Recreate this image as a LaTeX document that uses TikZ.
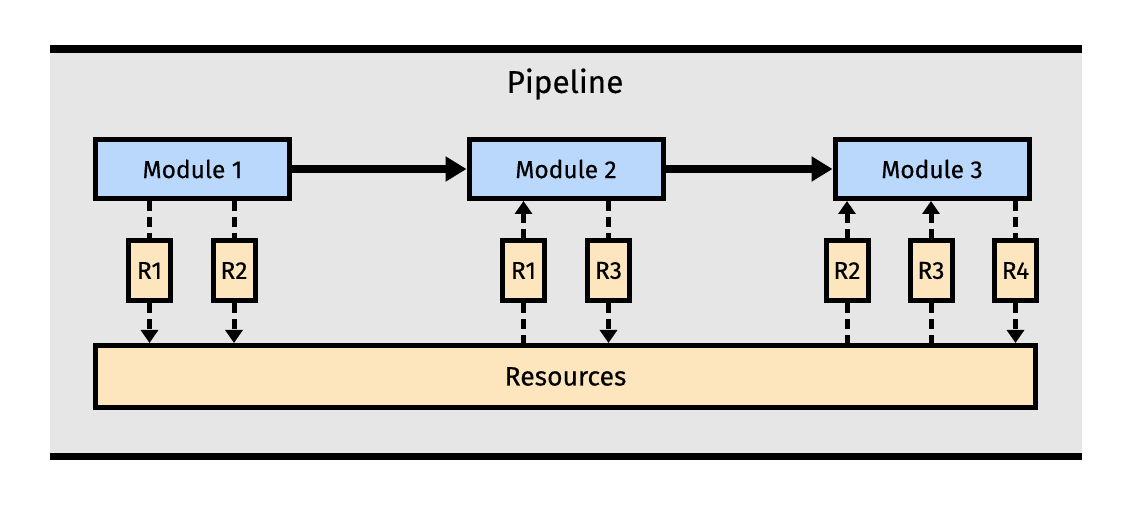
\documentclass[tikz,border=0pt]{standalone}
\usepackage{fontspec}
\setmainfont{Fira Sans}[FakeBold=0.4]
\usetikzlibrary{arrows.meta}
\definecolor{modblue}{RGB}{185,216,251}
\definecolor{resbeige}{RGB}{253,230,190}
\definecolor{bggray}{RGB}{230,230,230}
\tikzset{
  lbl/.style={font=\fontsize{24.5}{28}\selectfont},
  modbox/.style={draw=black, line width=5pt, fill=modblue, minimum width=194pt, minimum height=59pt, inner sep=0pt, lbl},
  rbox/.style={draw=black, line width=5pt, fill=resbeige, minimum width=42pt, minimum height=60pt, inner sep=0pt, lbl},
  resbox/.style={draw=black, line width=5pt, fill=resbeige, minimum width=940pt, minimum height=62pt, inner sep=0pt, font=\fontsize{26.5}{30}\selectfont},
  flow/.style={line width=8pt, -{Triangle[length=21pt,width=24pt]}},
  dep/.style={line width=5pt, dash pattern=on 10pt off 6pt},
  depdown/.style={dep, -{Triangle[length=13pt,width=17pt]}},
  depup/.style={dep, {Triangle[length=13pt,width=17pt]}-},
}
\begin{document}
\begin{tikzpicture}[x=1pt,y=-1pt]
\useasboundingbox (0,0) rectangle (1132,510);
\fill[bggray] (50,49) rectangle (1082,456.5);
\draw[line width=8pt] (50,49) -- (1082,49);
\draw[line width=7pt] (50,456.5) -- (1082,456.5);
\node[font=\fontsize{31.5}{35}\selectfont] (title) at (565,84) {Pipeline};

\node[modbox] (m1) at (192.5,169) {Module 1};
\node[modbox] (m2) at (566,169) {Module 2};
\node[modbox] (m3) at (932,169) {Module 3};
\node[resbox] (res) at (565.5,376.5) {Resources};

\node[rbox] (a1) at (149.5,270.5) {R1};
\node[rbox] (a2) at (234,270.5) {R2};
\node[rbox] (b1) at (523.5,270.5) {R1};
\node[rbox] (b3) at (608.5,270.5) {R3};
\node[rbox] (c2) at (847,270.5) {R2};
\node[rbox] (c3) at (931,270.5) {R3};
\node[rbox] (c4) at (1015.5,270.5) {R4};

\draw[flow] (m1) -- (m2);
\draw[flow] (m2) -- (m3);

% Module 1
\draw[dep] (a1.north |- m1.south) -- (a1.north);
\draw[depdown] (a1.south) -- (a1.south |- res.north);
\draw[dep] (a2.north |- m1.south) -- (a2.north);
\draw[depdown] (a2.south) -- (a2.south |- res.north);
% Module 2
\draw[depup] (b1.north |- m2.south) -- (b1.north);
\draw[dep] (b1.south) -- (b1.south |- res.north);
\draw[dep] (b3.north |- m2.south) -- (b3.north);
\draw[depdown] (b3.south) -- (b3.south |- res.north);
% Module 3
\draw[depup] (c2.north |- m3.south) -- (c2.north);
\draw[dep] (c2.south) -- (c2.south |- res.north);
\draw[depup] (c3.north |- m3.south) -- (c3.north);
\draw[dep] (c3.south) -- (c3.south |- res.north);
\draw[dep] (c4.north |- m3.south) -- (c4.north);
\draw[depdown] (c4.south) -- (c4.south |- res.north);
\end{tikzpicture}
\end{document}
